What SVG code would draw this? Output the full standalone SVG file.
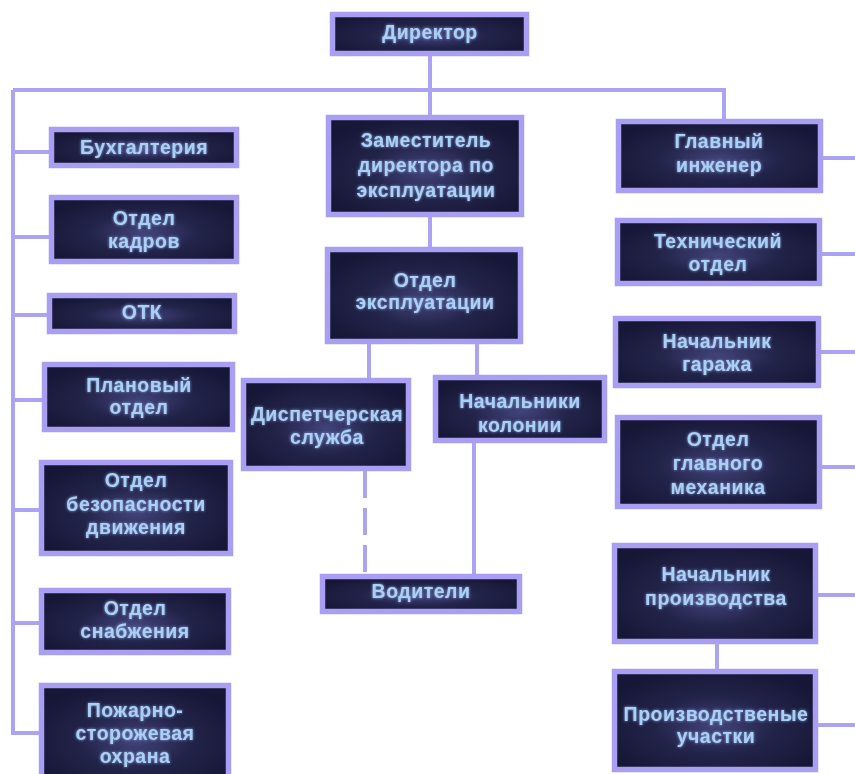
<svg xmlns="http://www.w3.org/2000/svg" width="855" height="774" viewBox="0 0 855 774">
<defs>
<radialGradient id="bg" cx="50%" cy="55%" r="60%">
<stop offset="0" stop-color="#42437a"/>
<stop offset="0.5" stop-color="#222349"/>
<stop offset="1" stop-color="#161736"/>
</radialGradient>
<filter id="glow" x="-10%" y="-30%" width="120%" height="160%">
<feGaussianBlur in="SourceAlpha" stdDeviation="1.6" result="b"/>
<feFlood flood-color="#8fb6f0" flood-opacity="0.9"/>
<feComposite in2="b" operator="in" result="g"/>
<feMerge><feMergeNode in="g"/><feMergeNode in="SourceGraphic"/></feMerge>
</filter>
</defs>
<style>
.box{fill:url(#bg);stroke:#a99ef2;stroke-width:5.5}
.t{font-family:"Liberation Sans",Arial,sans-serif;font-weight:bold;font-size:19.5px;fill:#acd0f4;text-anchor:middle;letter-spacing:0.5px;filter:url(#glow)}
.ln{fill:none;stroke:#ada3f3;stroke-width:4}
.dash{stroke-dasharray:27 10}
</style>
<rect width="855" height="774" fill="#ffffff"/>
<g id="connectors">
<path class="ln" d="M430 56V90M13 90H724V119M430 90V115M13 90V733H39"/>
<path class="ln" d="M13 152H49M13 237H49M13 315H47M13 400H42M13 510H39M13 623H39"/>
<path class="ln" d="M430 217V247M369 344V378M477 344V375M474 443V574"/>
<path class="ln dash" d="M365 471V574"/>
<path class="ln" d="M823 158H855M822 254H855M821 352H855M822 467H855M818 595H855M818 725H855M717 644V669"/>
</g>
<g id="director"><rect class="box" x="332.5" y="14.5" width="194" height="39"/><text class="t" x="430" y="39">Директор</text></g>
<g id="deputy"><rect class="box" x="328.5" y="117.5" width="193" height="97"/><text class="t" x="426" y="147">Заместитель</text><text class="t" x="426" y="172">директора по</text><text class="t" x="426" y="197">эксплуатации</text></g>
<g id="operations"><rect class="box" x="327.5" y="249.5" width="193" height="92"/><text class="t" x="425" y="287">Отдел</text><text class="t" x="425" y="309">эксплуатации</text></g>
<g id="dispatch"><rect class="box" x="243.5" y="380.5" width="165" height="88"/><text class="t" x="327" y="421">Диспетчерская</text><text class="t" x="327" y="444">служба</text></g>
<g id="column-heads"><rect class="box" x="435.5" y="377.5" width="169" height="63"/><text class="t" x="520" y="408">Начальники</text><text class="t" x="520" y="432">колонии</text></g>
<g id="drivers"><rect class="box" x="322.5" y="576.5" width="197" height="35"/><text class="t" x="421" y="598">Водители</text></g>
<g id="chief-engineer"><rect class="box" x="618.5" y="121.5" width="202" height="69"/><text class="t" x="719" y="148">Главный</text><text class="t" x="719" y="172">инженер</text></g>
<g id="technical"><rect class="box" x="617.5" y="220.5" width="202" height="63"/><text class="t" x="718" y="248">Технический</text><text class="t" x="718" y="271">отдел</text></g>
<g id="garage"><rect class="box" x="615.5" y="318.5" width="203" height="67"/><text class="t" x="717" y="348">Начальник</text><text class="t" x="717" y="371">гаража</text></g>
<g id="mechanic"><rect class="box" x="617.5" y="417.5" width="202" height="89"/><text class="t" x="718" y="446">Отдел</text><text class="t" x="718" y="470">главного</text><text class="t" x="718" y="494">механика</text></g>
<g id="production-head"><rect class="box" x="614.5" y="545.5" width="201" height="96"/><text class="t" x="716" y="581">Начальник</text><text class="t" x="716" y="605">производства</text></g>
<g id="production-sites"><rect class="box" x="614.5" y="671.5" width="201" height="98"/><text class="t" x="716" y="721">Производственые</text><text class="t" x="716" y="743">участки</text></g>
<g id="accounting"><rect class="box" x="51.5" y="129.5" width="185" height="36"/><text class="t" x="144" y="154">Бухгалтерия</text></g>
<g id="hr"><rect class="box" x="51.5" y="197.5" width="185" height="64"/><text class="t" x="144" y="225">Отдел</text><text class="t" x="144" y="248">кадров</text></g>
<g id="otk"><rect class="box" x="49.5" y="295.5" width="185" height="36"/><text class="t" x="142" y="319">ОТК</text></g>
<g id="planning"><rect class="box" x="44.5" y="364.5" width="188" height="65"/><text class="t" x="139" y="392">Плановый</text><text class="t" x="139" y="414">отдел</text></g>
<g id="safety"><rect class="box" x="41.5" y="462.5" width="189" height="91"/><text class="t" x="136" y="487">Отдел</text><text class="t" x="136" y="511">безопасности</text><text class="t" x="136" y="534">движения</text></g>
<g id="supply"><rect class="box" x="41.5" y="590.5" width="187" height="62"/><text class="t" x="135" y="615">Отдел</text><text class="t" x="135" y="638">снабжения</text></g>
<g id="fire-guard"><rect class="box" x="41.5" y="685.5" width="187" height="100"/><text class="t" x="135" y="717">Пожарно-</text><text class="t" x="135" y="740">сторожевая</text><text class="t" x="135" y="763">охрана</text></g>
</svg>
